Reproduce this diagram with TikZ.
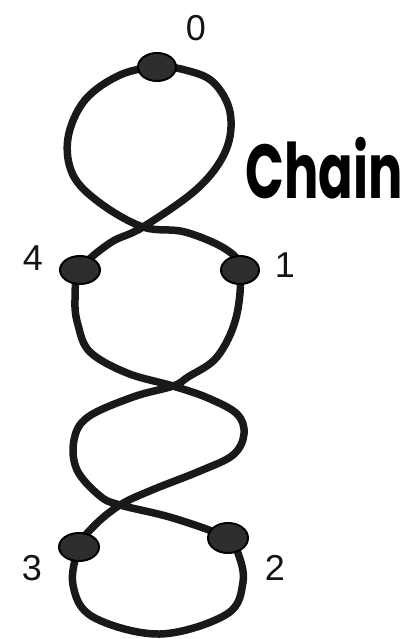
\documentclass[tikz,border=0pt]{standalone}
\usepackage{fontspec}
\usepackage{graphicx}
\setmainfont{Liberation Sans}
\newfontfamily\chainfont{Poppins}
\tikzset{
  rope/.style={line width=7.5pt, draw=black!90, line cap=round, line join=round},
  blob/.style={ellipse, minimum width=38pt, minimum height=28pt, inner sep=0pt, fill=black!82, draw=black, line width=2pt},
  num/.style={font=\fontsize{36}{36}\selectfont, text=black!92, inner sep=0pt},
}
\usetikzlibrary{shapes.geometric}
\begin{document}
\begin{tikzpicture}[x=1pt,y=-1pt]
\useasboundingbox (0,0) rectangle (406,639);
\coordinate (p0) at (157,67);
\coordinate (p4) at (80,270);
\coordinate (p1) at (240,270);
\coordinate (p3) at (79,547);
\coordinate (p2) at (228,538);
\coordinate (cA) at (143,227);
\coordinate (cB) at (173,386);
\coordinate (cC) at (120,505);
\draw[rope] plot[smooth cycle, tension=0.6] coordinates {
 (p0) (185,70) (213,82) (230,112) (226,150) (198,188) (cA) (110,243) (p4)
 (75,300) (78,325) (90,352) (127,373) (cB) (208,398) (237,414) (244,434)
 (233,455) (200,471) (152,490) (cC) (94,526) (p3) (73,585) (93,617)
 (160,634) (227,614) (243,582) (238,553) (p2) (173,518) (cC) (100,496)
 (77,470) (74,440) (88,417) (133,397) (cB) (188,377) (217,357) (236,318)
 (p1) (227,250) (185,232) (cA) (100,203) (73,175) (68,138) (85,100) (120,75)
};
\node[blob] (n0) at (p0) {};
\node[blob, minimum width=40pt] (n4) at (p4) {};
\node[blob] (n1) at (p1) {};
\node[blob, minimum width=40pt] (n3) at (p3) {};
\node[blob, minimum width=40pt, minimum height=30pt] (n2) at (p2) {};
\node[num] (l0) at (196,28) {0};
\node[num] (l4) at (33,258) {4};
\node[num] (l1) at (285,265) {1};
\node[num] (l3) at (32,568) {3};
\node[num] (l2) at (275,568) {2};
\node[inner sep=0pt] (title) at (324,168) {\scalebox{1}[1.5]{\chainfont\bfseries\fontsize{51}{51}\selectfont Chain}};
\end{tikzpicture}
\end{document}
